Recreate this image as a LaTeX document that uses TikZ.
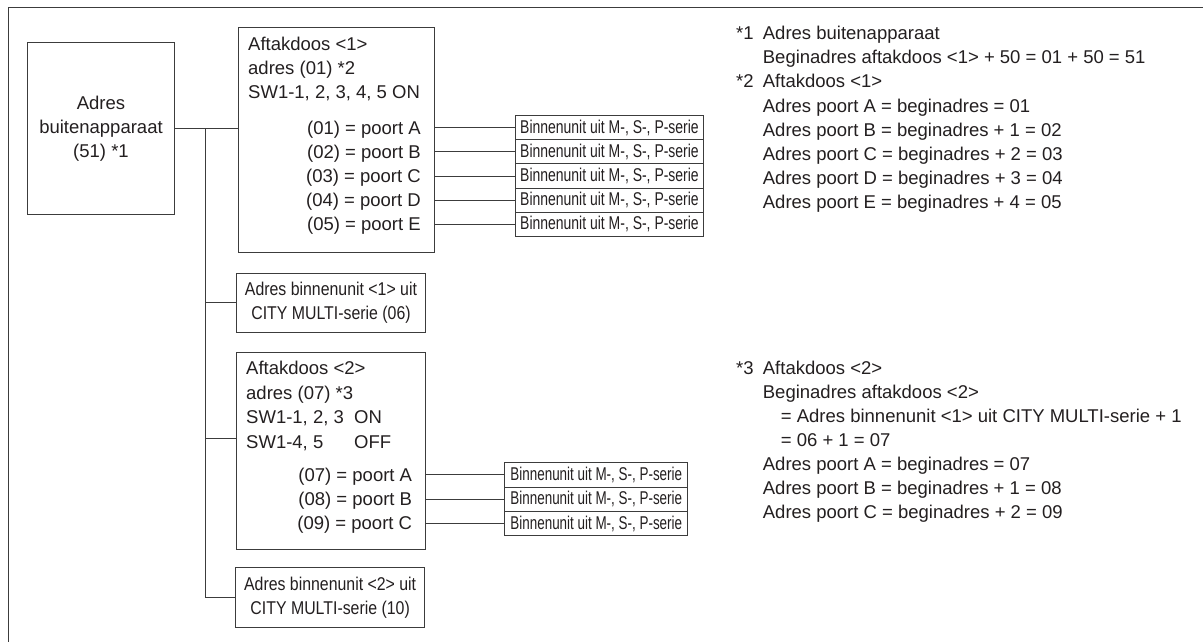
\documentclass[tikz,border=0pt]{standalone}
\usepackage{fontspec}
\usepackage{graphicx}
\setmainfont{Liberation Sans}
\definecolor{linec}{HTML}{3C3C3C}
\definecolor{txtc}{HTML}{231F20}
\begin{document}
\begin{tikzpicture}[x=1pt,y=-1pt,
  ln/.style={draw=linec, line width=1pt},
  frameln/.style={draw=linec, line width=1.3pt},
  bx/.style={draw=linec, line width=1pt, rectangle, inner sep=0pt, anchor=north west},
  tx/.style={font=\fontsize{18.5}{24}\selectfont, text=txtc, inner sep=0pt},
  lt/.style={tx, anchor=base west},
  rt/.style={tx, anchor=base east},
  sboxA/.style={bx, tx, minimum height=24.2pt, minimum width=188pt},
  sboxB/.style={bx, tx, minimum height=24.3pt, minimum width=183pt},
  cbox/.style={bx, tx, align=center}]
\path[use as bounding box] (0,0) rectangle (1203,642);
\fill[white] (0,0) rectangle (1203,642);
% outer frame (top and left edges)
\draw[frameln] (8.3,642) -- (8.3,7.5) -- (1203,7.5);

% outdoor unit
\node[cbox, minimum width=147pt, minimum height=172pt] (buiten) at (27,42)
  {Adres\\buitenapparaat\\(51) *1};

% branch box 1
\node[bx, minimum width=196pt, minimum height=225pt] (aft1) at (237.5,27) {};
\node[lt] (a1t1) at (248,50.5) {Aftakdoos <1>};
\node[lt] (a1t2) at (248,74.5) {adres (01) *2};
\node[lt] (a1t3) at (248,98.5) {SW1-1, 2, 3, 4, 5 ON};
\node[rt] (a1pA) at (421,134) {(01) = poort A};
\node[rt] (a1pB) at (421,158) {(02) = poort B};
\node[rt] (a1pC) at (421,182.5) {(03) = poort C};
\node[rt] (a1pD) at (421,206) {(04) = poort D};
\node[rt] (a1pE) at (421,230) {(05) = poort E};

\node[sboxA] (s1a) at (515,115.0) {\scalebox{0.755}[1]{Binnenunit uit M-, S-, P-serie}};
\node[sboxA] (s1b) at (515,139.2) {\scalebox{0.755}[1]{Binnenunit uit M-, S-, P-serie}};
\node[sboxA] (s1c) at (515,163.4) {\scalebox{0.755}[1]{Binnenunit uit M-, S-, P-serie}};
\node[sboxA] (s1d) at (515,187.6) {\scalebox{0.755}[1]{Binnenunit uit M-, S-, P-serie}};
\node[sboxA] (s1e) at (515,211.8) {\scalebox{0.755}[1]{Binnenunit uit M-, S-, P-serie}};

% indoor unit 1
\node[cbox, minimum width=189pt, minimum height=59pt] (bin1) at (236,272.7)
  {\scalebox{0.858}[1]{Adres binnenunit <1> uit}\\\scalebox{0.858}[1]{CITY MULTI-serie (06)}};

% branch box 2
\node[bx, minimum width=188.5pt, minimum height=196.7pt] (aft2) at (236,352.3) {};
\node[lt] (a2t1) at (246,374.4) {Aftakdoos <2>};
\node[lt] (a2t2) at (246,399) {adres (07) *3};
\node[lt] (a2t3) at (246,423) {SW1-1, 2, 3};
\node[lt] (a2t3b) at (354,423) {ON};
\node[lt] (a2t4) at (246,448) {SW1-4, 5};
\node[lt] (a2t4b) at (354,448) {OFF};
\node[rt] (a2pA) at (412.3,481.4) {(07) = poort A};
\node[rt] (a2pB) at (412.3,505.4) {(08) = poort B};
\node[rt] (a2pC) at (412.3,529.7) {(09) = poort C};

\node[sboxB] (s2a) at (504.3,462.3) {\scalebox{0.726}[1]{Binnenunit uit M-, S-, P-serie}};
\node[sboxB] (s2b) at (504.3,486.6) {\scalebox{0.726}[1]{Binnenunit uit M-, S-, P-serie}};
\node[sboxB] (s2c) at (504.3,510.9) {\scalebox{0.726}[1]{Binnenunit uit M-, S-, P-serie}};

% indoor unit 2
\node[cbox, minimum width=189.3pt, minimum height=59.4pt] (bin2) at (235,567.3)
  {\scalebox{0.858}[1]{Adres binnenunit <2> uit}\\\scalebox{0.858}[1]{CITY MULTI-serie (10)}};

% connectors
\coordinate (j1) at (205.5,128);
\coordinate (b2) at (205.5,438.5);
\draw[ln] (buiten.east) -- (aft1.west |- buiten.east);
\draw[ln] (j1) |- (bin2.west);
\draw[ln] (j1 |- bin1.west) -- (bin1.west);
\draw[ln] (b2) -- (aft2.west |- b2);
\foreach \s in {s1a,s1b,s1c,s1d,s1e}{\draw[ln] (aft1.east |- \s.west) -- (\s.west);}
\foreach \s in {s2a,s2b,s2c}{\draw[ln] (aft2.east |- \s.west) -- (\s.west);}

% notes
\node[lt] (n1) at (736,39.7) {*1};
\node[lt] (n1a) at (762.7,39.7) {Adres buitenapparaat};
\node[lt] (n1b) at (762.7,64) {Beginadres aftakdoos <1> + 50 = 01 + 50 = 51};
\node[lt] (n2) at (736,88) {*2};
\node[lt] (n2a) at (762.7,88) {Aftakdoos <1>};
\node[lt] (n2b) at (762.7,112.3) {Adres poort A = beginadres = 01};
\node[lt] (n2c) at (762.7,136.3) {Adres poort B = beginadres + 1 = 02};
\node[lt] (n2d) at (762.7,160.3) {Adres poort C = beginadres + 2 = 03};
\node[lt] (n2e) at (762.7,184.3) {Adres poort D = beginadres + 3 = 04};
\node[lt] (n2f) at (762.7,208.3) {Adres poort E = beginadres + 4 = 05};

\node[lt] (n3) at (736,374.4) {*3};
\node[lt] (n3a) at (762.7,374.4) {Aftakdoos <2>};
\node[lt] (n3b) at (762.7,398.4) {Beginadres aftakdoos <2>};
\node[lt] (n3c) at (780.7,422.4) {= Adres binnenunit <1> uit CITY MULTI-serie + 1};
\node[lt] (n3d) at (780.7,446.4) {= 06 + 1 = 07};
\node[lt] (n3e) at (762.7,470.4) {Adres poort A = beginadres = 07};
\node[lt] (n3f) at (762.7,494.4) {Adres poort B = beginadres + 1 = 08};
\node[lt] (n3g) at (762.7,518.4) {Adres poort C = beginadres + 2 = 09};
\end{tikzpicture}
\end{document}
